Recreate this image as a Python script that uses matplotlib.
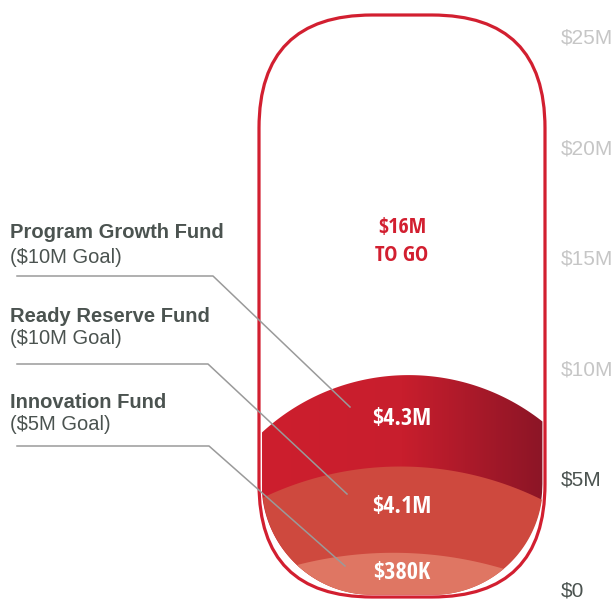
import numpy as np
import matplotlib
matplotlib.use('Agg')
import matplotlib.pyplot as plt
from matplotlib.patches import FancyBboxPatch
from matplotlib.lines import Line2D
from matplotlib.colors import LinearSegmentedColormap

# fund data ($M)
funds = ['Program Growth Fund', 'Ready Reserve Fund', 'Innovation Fund']
goals = ['($10M Goal)', '($10M Goal)', '($5M Goal)']
raised = [4.3, 4.1, 0.38]
raised_labels = ['$4.3M', '$4.1M', '$380K']
# fill surface (peak of each dome) as drawn, in $M
surface = [9.67, 5.56, 1.66]
to_go_label = '$16M\nTO GO'

ticks = [0, 5, 10, 15, 20, 25]
tick_labels = ['$0', '$5M', '$10M', '$15M', '$20M', '$25M']
reached = [True, True, False, False, False, False]

W, H = 615, 599
K = 22.12  # px per $M
ZERO_PX = 589
CENTER_PX = 402

TEXT_DARK = '#4b5350'
TEXT_LIGHT = '#c6c6c6'
RED = '#d21f30'
LINE = '#9a9a9a'
narrow = ['Open Sans Condensed', 'Roboto Condensed', 'DejaVu Sans']

fig = plt.figure(figsize=(W / 100, H / 100), dpi=100)
ax_right = 555
ax = fig.add_axes([0, 0, ax_right / W, 1])
ax.set_xlim(-CENTER_PX / K, (ax_right - CENTER_PX) / K)
ax.set_ylim((ZERO_PX - H) / K, ZERO_PX / K)
for s in ax.spines.values():
    s.set_visible(False)
ax.set_xticks([])
ax.yaxis.tick_right()
ax.set_yticks(ticks)
ax.set_yticklabels(tick_labels, fontsize=15, family='Liberation Sans')
ax.tick_params(axis='y', length=0, pad=4)
for lab, r in zip(ax.get_yticklabels(), reached):
    lab.set_color(TEXT_DARK if r else TEXT_LIGHT)

# capsule geometry
cw = 286 / K
y0 = (ZERO_PX - 597) / K
y1 = (ZERO_PX - 15) / K
rc = 113 / K

# fill sits slightly inside the outline
gap = 2.6 / K
fw = cw - 2 * gap
fy0 = y0 + gap
frc = rc - gap
x = np.linspace(-fw / 2, fw / 2, 800)
flat = fw / 2 - frc
dx = np.clip(np.abs(x) - flat, 0, None)
lower = fy0 + frc - np.sqrt(np.clip(frc**2 - dx**2, 0, None))

# dome shapes: (x offset, radius)
domes = [(0.3, 9.77), (-0.1, 14.4), (-0.41, 17.45)]
fills = [None, '#ce493e', '#df7663']

for i, (peak, (cx, R)) in enumerate(zip(surface, domes)):
    top = peak - R + np.sqrt(np.clip(R**2 - (x - cx)**2, 0, None))
    top = np.maximum(top, lower)
    if fills[i] is None:
        poly = ax.fill_between(x, lower, top, color='none', lw=0)
        cmap = LinearSegmentedColormap.from_list(
            'g', [(0, '#cd1f2e'), (0.5, '#c81e2d'), (1, '#8c1526')])
        grad = np.linspace(0, 1, 256).reshape(1, -1)
        im = ax.imshow(grad, cmap=cmap, aspect='auto',
                       extent=(-fw / 2, fw / 2, fy0, peak), zorder=1)
        im.set_clip_path(poly.get_paths()[0], ax.transData)
    else:
        ax.fill_between(x, lower, top, color=fills[i], lw=0, zorder=2)

capsule = FancyBboxPatch((-cw / 2, y0), cw, y1 - y0,
                         boxstyle='round,pad=0,rounding_size=%f' % rc,
                         fc='none', ec=RED, lw=2.3, zorder=5)
ax.add_patch(capsule)

# value labels inside the layers
bounds = surface + [y0]
for i, lab in enumerate(raised_labels):
    yl = (bounds[i] + bounds[i + 1]) / 2 + 0.08
    ax.text(0, yl, lab, color='white', fontsize=17.5, fontweight='bold',
            family=narrow, fontstretch='condensed',
            ha='center', va='center', zorder=6)

ax.text(0, 15.7, to_go_label, color=RED, fontsize=16, fontweight='bold',
        family=narrow, fontstretch='condensed', ha='center', va='center',
        linespacing=1.45, zorder=6)

# left labels and leader lines (figure pixel coords)
def fx(px):
    return px / W


def fy(py):
    return 1 - py / H


name_y = [233, 316, 403]
goal_y = [257, 339, 425]
line_y = [276, 364, 446]
bend_x = [213, 208, 209]
end_pt = [(350, 407), (347, 494), (345, 566)]

for i in range(3):
    fig.text(fx(10), fy(name_y[i]), funds[i], fontsize=14.5,
             fontweight='bold', color=TEXT_DARK, family='Liberation Sans',
             va='center')
    fig.text(fx(10), fy(goal_y[i]), goals[i], fontsize=14.5,
             color=TEXT_DARK, family='Liberation Sans', va='center')
    xs = [fx(17), fx(bend_x[i]), fx(end_pt[i][0])]
    ys = [fy(line_y[i]), fy(line_y[i]), fy(end_pt[i][1])]
    fig.add_artist(Line2D(xs, ys, color=LINE, lw=1.1, zorder=7))

fig.savefig('out.png', dpi=100)
